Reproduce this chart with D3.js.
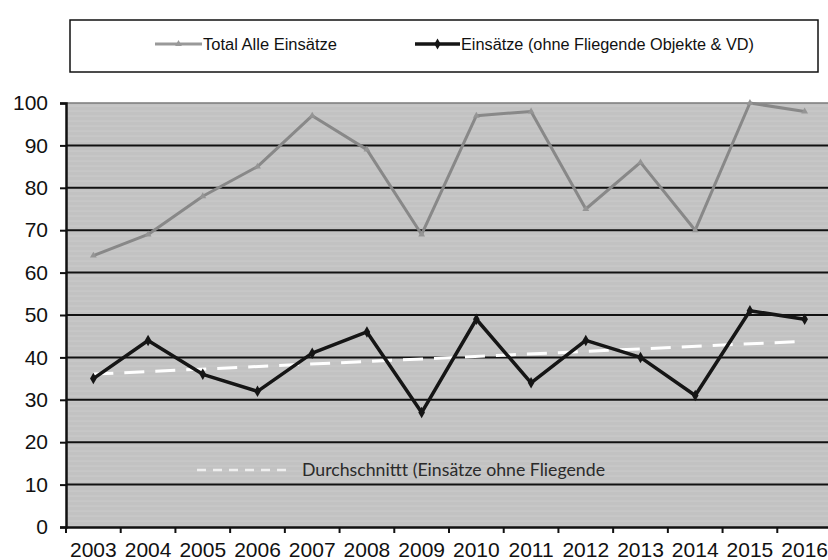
<!DOCTYPE html>
<meta charset="utf-8">
<html lang="de">
<head>
<script src="https://d3js.org/d3.v7.min.js"></script>
<style>
  body { margin: 0; background: #fff; }
  svg { display: block; }
</style>
</head>
<body>
<svg></svg>
<script>
let width = 828, height = 560;

// data
var years = ["2003","2004","2005","2006","2007","2008","2009","2010","2011","2012","2013","2014","2015","2016"];
var totalAll = [64, 69, 78, 85, 97, 89, 69, 97, 98, 75, 86, 70, 100, 98];
var ohneFO = [35, 44, 36, 32, 41, 46, 27, 49, 34, 44, 40, 31, 51, 49];
var yTicks = [0, 10, 20, 30, 40, 50, 60, 70, 80, 90, 100];
var legendLabels = ["Total Alle Einsätze", "Einsätze (ohne Fliegende Objekte & VD)"];
var trendLabel = "Durchschnittt (Einsätze ohne Fliegende";

let svg = d3.select("svg").attr("width", width).attr("height", height);

let x = d3.scaleBand().domain(years).range([66, 832]);
let y = d3.scaleLinear().domain([0, 100]).range([527, 103]);
let cx = d => x(d) + x.bandwidth() / 2;

// plot area
svg.append("rect")
    .attr("x", x.range()[0]).attr("y", y(100))
    .attr("width", x.range()[1] - x.range()[0]).attr("height", y(0) - y(100))
    .attr("fill", "#c2c2c2");

// faint scan stripes
svg.append("g").selectAll("line")
    .data(d3.range(y(100) + 3, y(0), 5))
    .enter().append("line")
    .attr("x1", x.range()[0]).attr("x2", x.range()[1])
    .attr("y1", d => d).attr("y2", d => d)
    .attr("stroke", "#cbcbcb").attr("stroke-width", 1);

// grid lines
svg.append("g").selectAll("line")
    .data(yTicks.filter(d => d > 0))
    .enter().append("line")
    .attr("x1", x.range()[0]).attr("x2", x.range()[1])
    .attr("y1", d => y(d)).attr("y2", d => y(d))
    .attr("stroke", d => d == 100 ? "#7a7a7a" : "#111")
    .attr("stroke-width", d => d == 100 ? 1.5 : 2);

// y axis
let yAxis = svg.append("g")
    .attr("transform", "translate(" + x.range()[0] + ",0)")
    .call(d3.axisLeft(y).tickValues(yTicks).tickSize(6).tickPadding(12));
yAxis.select(".domain").attr("stroke", "#111").attr("stroke-width", 2.5);
yAxis.selectAll(".tick line").attr("stroke", "#111").attr("stroke-width", 2);
yAxis.selectAll("text")
    .attr("font-family", "'Liberation Sans', Arial, sans-serif")
    .attr("font-size", 21).attr("fill", "#111");

// x axis
let xAxis = svg.append("g")
    .attr("transform", "translate(0," + y(0) + ")")
    .call(d3.axisBottom(x).tickSize(0).tickPadding(15));
xAxis.select(".domain").attr("stroke", "#111").attr("stroke-width", 2.5);
xAxis.selectAll("text")
    .attr("font-family", "'Liberation Sans', Arial, sans-serif")
    .attr("font-size", 21).attr("fill", "#111");
xAxis.selectAll("line.sep")
    .data(years)
    .enter().append("line").attr("class", "sep")
    .attr("x1", d => x(d)).attr("x2", d => x(d))
    .attr("y1", 0).attr("y2", 6)
    .attr("stroke", "#111").attr("stroke-width", 2);

// linear trend of the second series (like a spreadsheet trendline)
let idx = d3.range(ohneFO.length);
let mx = d3.mean(idx), my = d3.mean(ohneFO);
let slope = d3.sum(idx, i => (i - mx) * (ohneFO[i] - my)) / d3.sum(idx, i => (i - mx) * (i - mx));
let icpt = my - slope * mx;

svg.append("line")
    .attr("x1", cx(years[0])).attr("y1", y(icpt))
    .attr("x2", cx(years[years.length - 1])).attr("y2", y(icpt + slope * (years.length - 1)))
    .attr("stroke", "#fff").attr("stroke-width", 3)
    .attr("stroke-dasharray", "20,11");

let line = d3.line().x((d, i) => cx(years[i])).y(d => y(d));

// gray series
svg.append("path").datum(totalAll)
    .attr("d", line).attr("fill", "none")
    .attr("stroke", "#888").attr("stroke-width", 3).attr("stroke-linejoin", "round");
svg.append("g").selectAll("path")
    .data(totalAll).enter().append("path")
    .attr("d", d3.symbol().type(d3.symbolTriangle).size(20))
    .attr("transform", (d, i) => "translate(" + cx(years[i]) + "," + y(d) + ")")
    .attr("fill", "#959595");

// black series
svg.append("path").datum(ohneFO)
    .attr("d", line).attr("fill", "none")
    .attr("stroke", "#151515").attr("stroke-width", 3.5).attr("stroke-linejoin", "round");
svg.append("g").selectAll("path")
    .data(ohneFO).enter().append("path")
    .attr("d", d3.symbol().type(d3.symbolDiamond).size(38))
    .attr("transform", (d, i) => "translate(" + cx(years[i]) + "," + y(d) + ")")
    .attr("fill", "#151515");

// trend legend inside the plot
svg.append("line")
    .attr("x1", 197).attr("x2", 292).attr("y1", 470).attr("y2", 470)
    .attr("stroke", "#efefef").attr("stroke-width", 2.5)
    .attr("stroke-dasharray", "9,7");
svg.append("text")
    .attr("x", 302).attr("y", 476)
    .attr("font-family", "Lato, 'Open Sans', sans-serif")
    .attr("font-size", 16.5).attr("fill", "#2a2a2a")
    .attr("textLength", 303).attr("lengthAdjust", "spacingAndGlyphs")
    .text(trendLabel);

// legend box
let lg = svg.append("g");
lg.append("rect")
    .attr("x", 70).attr("y", 20).attr("width", 748).attr("height", 52)
    .attr("fill", "#fff").attr("stroke", "#111").attr("stroke-width", 1.5);

let legendItems = [
    {label: legendLabels[0], x: 155, len: 47, tw: 134, color: "#999", w: 3, sym: d3.symbolTriangle, size: 20},
    {label: legendLabels[1], x: 415, len: 45, tw: 293, color: "#151515", w: 3.5, sym: d3.symbolDiamond, size: 34}
];
let li = lg.selectAll("g.item").data(legendItems).enter().append("g").attr("class", "item");
li.append("line")
    .attr("x1", d => d.x).attr("x2", d => d.x + d.len)
    .attr("y1", 44).attr("y2", 44)
    .attr("stroke", d => d.color).attr("stroke-width", d => d.w);
li.append("path")
    .attr("d", d => d3.symbol().type(d.sym).size(d.size)())
    .attr("transform", d => "translate(" + (d.x + d.len / 2) + ",44)")
    .attr("fill", d => d.color);
li.append("text")
    .attr("x", d => d.x + d.len + 1).attr("y", 50)
    .attr("font-family", "'Liberation Sans', Arial, sans-serif")
    .attr("font-size", 16).attr("fill", "#111")
    .attr("textLength", d => d.tw).attr("lengthAdjust", "spacingAndGlyphs")
    .text(d => d.label);
</script>
</body>
</html>
